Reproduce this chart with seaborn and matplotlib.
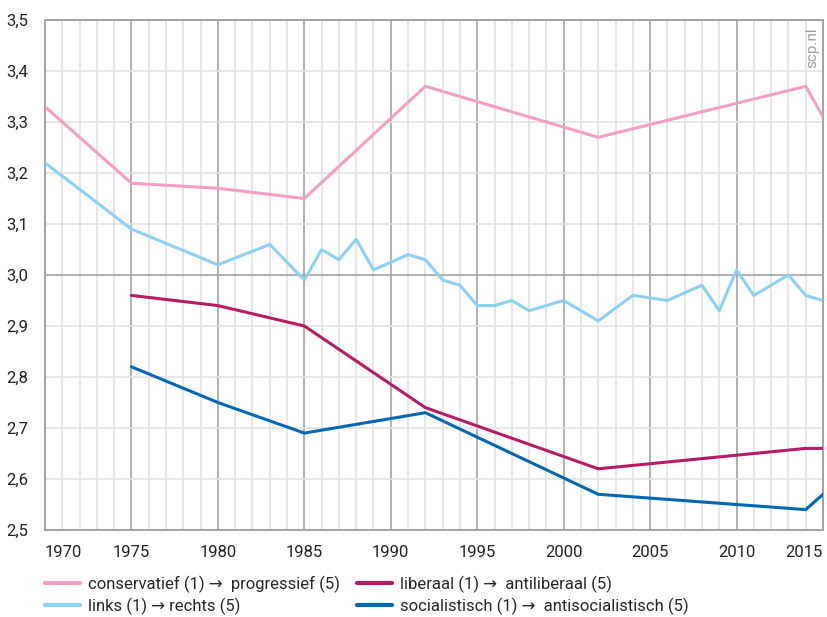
import matplotlib
matplotlib.use("Agg")
import matplotlib.pyplot as plt
import seaborn as sns
import pandas as pd
import numpy as np
from matplotlib.ticker import MultipleLocator, FuncFormatter

# ---- data ----
labels = [
    "conservatief (1) \u2192  progressief (5)",
    "links (1) \u2192 rechts (5)",
    "liberaal (1) \u2192  antiliberaal (5)",
    "socialistisch (1) \u2192  antisocialistisch (5)",
]
cons_years = [1970, 1975, 1980, 1985, 1992, 2002, 2014, 2015]
cons_vals = [3.33, 3.18, 3.17, 3.15, 3.37, 3.27, 3.37, 3.31]

links_years = [1970, 1975, 1980, 1983, 1985, 1986, 1987, 1988, 1989, 1991, 1992, 1993,
               1994, 1995, 1996, 1997, 1998, 2000, 2002, 2004, 2006, 2008, 2009, 2010,
               2011, 2013, 2014, 2015]
links_vals = [3.22, 3.09, 3.02, 3.06, 2.99, 3.05, 3.03, 3.07, 3.01, 3.04, 3.03, 2.99,
              2.98, 2.94, 2.94, 2.95, 2.93, 2.95, 2.91, 2.96, 2.95, 2.98, 2.93, 3.01,
              2.96, 3.00, 2.96, 2.95]

lib_years = [1975, 1980, 1985, 1992, 2002, 2014, 2015]
lib_vals = [2.96, 2.94, 2.90, 2.74, 2.62, 2.66, 2.66]

soc_years = [1975, 1980, 1985, 1992, 2002, 2014, 2015]
soc_vals = [2.82, 2.75, 2.69, 2.73, 2.57, 2.54, 2.57]

xticks = [1970, 1975, 1980, 1985, 1990, 1995, 2000, 2005, 2010, 2015]
colors = ["#F29FC5", "#8ED0F2", "#B51C63", "#0068B3"]

frames = []
for lab, yrs, vals in zip(labels, [cons_years, links_years, lib_years, soc_years],
                          [cons_vals, links_vals, lib_vals, soc_vals]):
    frames.append(pd.DataFrame({"jaar": yrs, "waarde": vals, "reeks": lab}))
df = pd.concat(frames, ignore_index=True)

# ---- plot ----
sns.set_style("white")
plt.rcParams["font.family"] = ["Roboto", "DejaVu Sans"]

fig = plt.figure(figsize=(8.28, 6.17), dpi=100)
ax = fig.add_axes([45 / 828, 1 - 530 / 617, (823 - 45) / 828, (530 - 20) / 617])

# grid
for yr in range(1970, 2016):
    major = (yr % 5 == 0)
    ax.axvline(yr, color="#a3a3a6" if major else "#e3e3e3", lw=1.2, zorder=0)
for v in np.arange(2.5, 3.51, 0.1):
    ax.axhline(v, color="#a3a3a6" if abs(v - 3.0) < 1e-6 else "#e3e3e3", lw=1.2, zorder=0)

sns.lineplot(data=df, x="jaar", y="waarde", hue="reeks", hue_order=labels,
             palette=colors, linewidth=2.2, ax=ax, legend=True, zorder=3)

ax.set_xlim(1970, 2015)
ax.set_ylim(2.5, 3.5)
ax.yaxis.set_major_locator(MultipleLocator(0.1))
ax.yaxis.set_major_formatter(FuncFormatter(lambda v, p: f"{v:.1f}".replace(".", ",")))
ax.set_xticks(xticks)
ax.set_xticklabels([str(x) for x in xticks])
ax.set_xlabel("")
ax.set_ylabel("")
ax.tick_params(axis="both", length=0, labelsize=12, colors="#222222")
ax.tick_params(axis="x", pad=11)
ax.tick_params(axis="y", pad=12)
xl = ax.get_xticklabels()
xl[0].set_ha("left")
xl[-1].set_ha("right")
for s in ax.spines.values():
    s.set_color("#a3a3a6")
    s.set_linewidth(1.4)

ax.text(0.995, 0.985, "scp.nl", rotation=90, transform=ax.transAxes, ha="right", va="top",
        color="#a0a0a0", fontsize=11)

handles, labs = ax.get_legend_handles_labels()
for h in handles:
    h.set_linewidth(3)
ax.legend(handles, labs, loc="upper left", bbox_to_anchor=(0.0, -0.089), ncol=2,
          frameon=False, fontsize=12, handlelength=2.1, handletextpad=0.5,
          columnspacing=1.0, labelspacing=0.3, borderaxespad=0, borderpad=0)

fig.savefig("out.png", dpi=100)
